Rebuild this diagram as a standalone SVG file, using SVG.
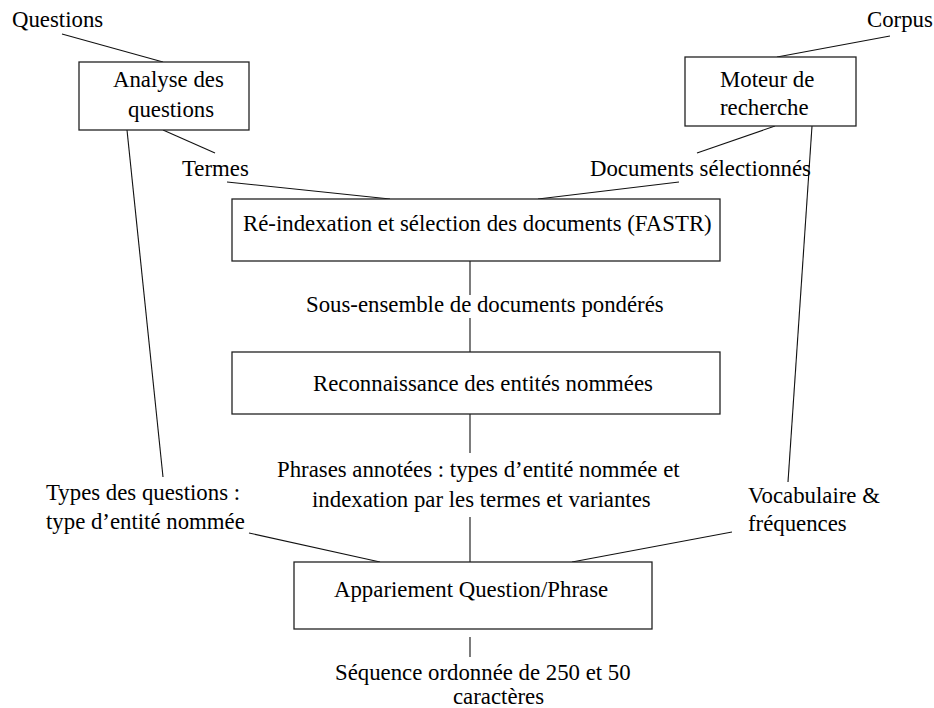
<svg xmlns="http://www.w3.org/2000/svg" width="934" height="708" viewBox="0 0 934 708">
<style>
  .box { fill: #ffffff; stroke: #222222; stroke-width: 1.3; }
  .ln { stroke: #111111; stroke-width: 1.1; fill: none; }
  text { font-family: "Liberation Serif", "Times New Roman", serif; font-size: 22.8px; fill: #000000; }
</style>
<rect x="0" y="0" width="934" height="708" fill="#ffffff"/>
<g id="connectors">
  <line class="ln" x1="62" y1="34" x2="163" y2="62"/>
  <line class="ln" x1="163" y1="130" x2="215" y2="153"/>
  <line class="ln" x1="227" y1="182" x2="390" y2="199"/>
  <line class="ln" x1="127" y1="130" x2="163" y2="477"/>
  <line class="ln" x1="890" y1="36" x2="777" y2="57"/>
  <line class="ln" x1="775" y1="126" x2="697" y2="153"/>
  <line class="ln" x1="679" y1="182" x2="538" y2="199"/>
  <line class="ln" x1="812" y1="126" x2="788" y2="482"/>
  <line class="ln" x1="470" y1="261" x2="470" y2="295"/>
  <line class="ln" x1="470" y1="318" x2="470" y2="352"/>
  <line class="ln" x1="470" y1="414" x2="470" y2="453"/>
  <line class="ln" x1="470" y1="517" x2="470" y2="562"/>
  <line class="ln" x1="249" y1="533" x2="380" y2="562"/>
  <line class="ln" x1="732" y1="532" x2="572" y2="562"/>
  <line class="ln" x1="470" y1="637" x2="470" y2="657"/>
</g>
<g id="label-questions"><text x="12" y="27">Questions</text></g>
<g id="label-corpus"><text x="867" y="27">Corpus</text></g>
<g id="node-analyse">
  <rect class="box" x="79" y="62" width="170" height="68"/>
  <text x="113" y="87">Analyse des</text>
  <text x="128" y="117">questions</text>
</g>
<g id="node-moteur">
  <rect class="box" x="685" y="57" width="171" height="69"/>
  <text x="720" y="87">Moteur de</text>
  <text x="720" y="115">recherche</text>
</g>
<g id="label-termes"><text x="182" y="176">Termes</text></g>
<g id="label-documents"><text x="590" y="176">Documents sélectionnés</text></g>
<g id="node-fastr">
  <rect class="box" x="232" y="199" width="488" height="62"/>
  <text x="243" y="231">Ré-indexation et sélection des documents (FASTR)</text>
</g>
<g id="label-sous-ensemble"><text x="306" y="312">Sous-ensemble de documents pondérés</text></g>
<g id="node-reconnaissance">
  <rect class="box" x="232" y="352" width="488" height="62"/>
  <text x="313" y="391">Reconnaissance des entités nommées</text>
</g>
<g id="label-phrases">
  <text x="277" y="477">Phrases annotées : types d’entité nommée et</text>
  <text x="312" y="507">indexation par les termes et variantes</text>
</g>
<g id="label-types">
  <text x="46" y="500">Types des questions :</text>
  <text x="46" y="529">type d’entité nommée</text>
</g>
<g id="label-vocabulaire">
  <text x="748" y="503">Vocabulaire &amp;</text>
  <text x="748" y="531">fréquences</text>
</g>
<g id="node-appariement">
  <rect class="box" x="294" y="562" width="358" height="67"/>
  <text x="334" y="597">Appariement Question/Phrase</text>
</g>
<g id="label-sequence">
  <text x="335" y="680">Séquence ordonnée de 250 et 50</text>
  <text x="453" y="704">caractères</text>
</g>
</svg>
